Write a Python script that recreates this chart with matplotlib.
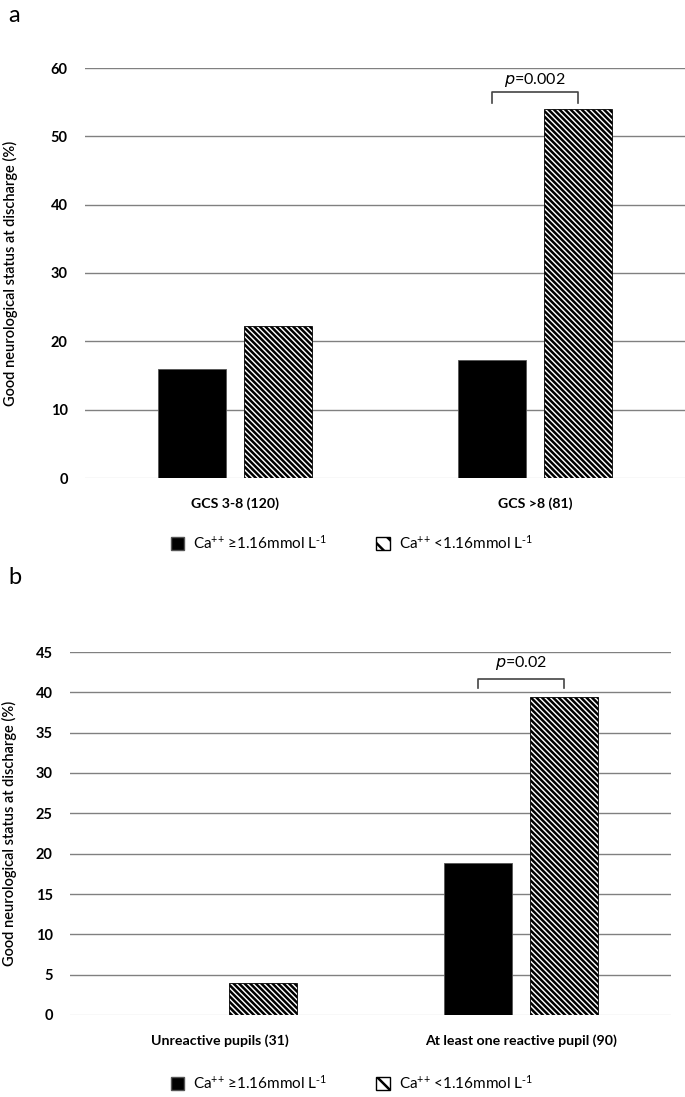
import matplotlib
matplotlib.use("Agg")
import matplotlib.pyplot as plt
from matplotlib.patches import Patch

plt.rcParams['font.family'] = ['Lato', 'DejaVu Sans']
plt.rcParams['mathtext.default'] = 'regular'
plt.rcParams['hatch.linewidth'] = 1.8

# Panel a data
cats_a = ["GCS 3-8 (120)", "GCS >8 (81)"]
high_a = [16.0, 17.2]      # Ca++ >= 1.16
low_a = [22.2, 54.0]       # Ca++ < 1.16
yticks_a = [0, 10, 20, 30, 40, 50, 60]
p_a = "0.002"

# Panel b data
cats_b = ["Unreactive pupils (31)", "At least one reactive pupil (90)"]
high_b = [0.0, 18.8]
low_b = [4.0, 39.4]
yticks_b = [0, 5, 10, 15, 20, 25, 30, 35, 40, 45]
p_b = "0.02"

legend_labels = ["Ca$^{{+}{+}}$ ≥1.16mmol L$^{\\text{-}1}$", "Ca$^{{+}{+}}$ <1.16mmol L$^{\\text{-}1}$"]
ylabel = "Good neurological status at discharge (%)"

W, H = 685, 1097
fig = plt.figure(figsize=(W / 100, H / 100), dpi=100)

HATCH = '\\' * 6


def px_axes(left, top, right, bottom):
    return fig.add_axes([left / W, 1 - bottom / H, (right - left) / W, (bottom - top) / H])


def panel(ax, cats, high, low, yticks, ymax, pval, bracket, ptext_y):
    x = list(range(len(cats)))
    bw = 0.227
    off = 0.143
    ax.set_axisbelow(True)
    ax.bar([i - off for i in x], high, width=bw, color='black', edgecolor='#555555', linewidth=0.6, zorder=2)
    ax.bar([i + off for i in x], low, width=bw, color='white', edgecolor='black', hatch=HATCH, linewidth=0.6, zorder=2)
    ax.set_xlim(-0.5, len(cats) - 0.5)
    ax.set_ylim(0, ymax)
    ax.set_yticks(yticks)
    ax.set_yticklabels([str(t) for t in yticks], fontsize=10.5, fontweight='bold')
    for t in yticks:
        if t == 0:
            ax.axhline(t, color='#dddddd', lw=1.0, zorder=1)
        else:
            ax.axhline(t, color='#808080', lw=1.0, zorder=1)
    ax.set_xticks(x)
    ax.set_xticklabels(cats, fontsize=10.2, fontweight='bold')
    ax.tick_params(length=0, pad=14)
    ax.tick_params(axis='y', pad=12.5)
    for s in ax.spines.values():
        s.set_visible(False)
    ax.set_ylabel(ylabel, fontsize=10.5, fontweight='semibold', labelpad=8)
    # bracket
    i = 1
    x0, x1 = i - off, i + off
    yt, yb = bracket
    ax.plot([x0, x0, x1, x1], [yb, yt, yt, yb], color='#444444', lw=1.2, clip_on=False, zorder=3)
    ax.text(i, ptext_y, "$\\it{p}$=" + pval, ha='center', va='center', fontsize=11.5)


ax_a = px_axes(85, 68, 685, 478)
panel(ax_a, cats_a, high_a, low_a, yticks_a, 60, p_a, (56.5, 54.9), 58.3)
ax_a.yaxis.set_label_coords(-0.112, 0.5)

ax_b = px_axes(70, 652, 671, 1015)
panel(ax_b, cats_b, high_b, low_b, yticks_b, 45, p_b, (41.7, 40.5), 43.6)
ax_b.yaxis.set_label_coords(-0.088, 0.5)

handles = [Patch(facecolor='black', edgecolor='#555555'),
           Patch(facecolor='white', edgecolor='black', hatch='\\\\')]
for ypix in (543, 1083):
    fig.legend(handles, legend_labels, loc='center', bbox_to_anchor=(352 / W, 1 - ypix / H),
               ncol=2, frameon=False, fontsize=11, handlelength=0.9, handleheight=0.9,
               handletextpad=0.6, columnspacing=3.2)

fig.text(8 / W, 1 - 15 / H, "a", fontsize=17, va='center', ha='left')
fig.text(8 / W, 1 - 578 / H, "b", fontsize=17, va='center', ha='left')

fig.savefig("out.png", dpi=100)
